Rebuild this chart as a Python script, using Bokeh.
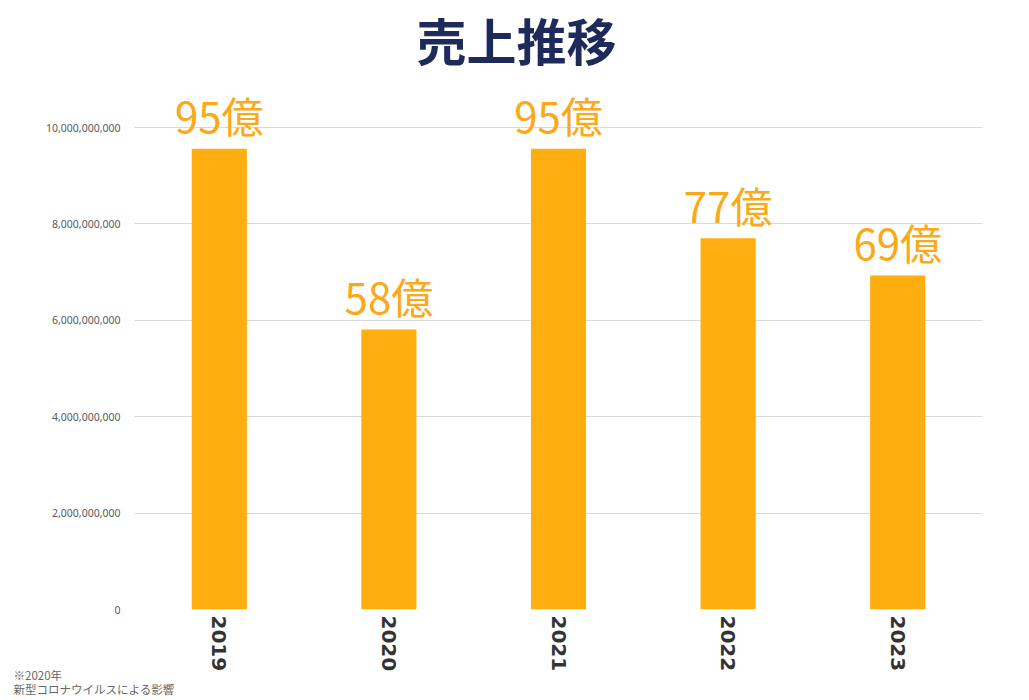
import math
from bokeh.plotting import figure
from bokeh.models import ColumnDataSource, FixedTicker, NumeralTickFormatter, Title, Range1d, FactorRange
from bokeh.core.properties import value
from bokeh.embed import file_html
from bokeh.resources import INLINE

years = ["2019", "2020", "2021", "2022", "2023"]
sales = [9.56e9, 5.81e9, 9.56e9, 7.70e9, 6.93e9]
labels = ["95億", "58億", "95億", "77億", "69億"]
y_ticks = [0, 2e9, 4e9, 6e9, 8e9, 10e9]
title_text = "売上推移"
note_text = "※2020年\n新型コロナウイルスによる影響"

BAR = "#FFAE10"
LABEL_C = "#FBA919"
JP = "Noto Sans CJK JP"

src = ColumnDataSource(dict(x=years, top=sales, label=labels))

p = figure(frame_width=848, frame_height=535, output_backend="svg", toolbar_location=None,
           x_range=FactorRange(*years, range_padding=0),
           y_range=Range1d(0, 11.10e9),
           min_border_left=134, min_border_right=31, min_border_top=60, min_border_bottom=90)
p.outline_line_color = None

p.title.text = title_text
p.title.align = "left"
p.title.offset = 282
p.title.standoff = 0
p.title.text_font = JP
p.title.text_font_size = "50px"
p.title.text_font_style = "bold"
p.title.text_color = "#1E2A5A"

p.vbar(x="x", top="top", width=0.325, source=src, color=BAR, line_color=None)
p.text(x="x", y="top", text="label", source=src, text_align="center", text_baseline="alphabetic",
       y_offset=-34, text_font=value(JP), text_font_size="42px", text_color=LABEL_C)

p.xgrid.grid_line_color = None
p.ygrid.grid_line_color = "#D9D9D9"
p.ygrid.ticker = FixedTicker(ticks=y_ticks)

p.yaxis.ticker = FixedTicker(ticks=y_ticks)
p.yaxis.formatter = NumeralTickFormatter(format="0,0")
p.yaxis.axis_line_color = None
p.yaxis.major_tick_line_color = None
p.yaxis.minor_tick_line_color = None
p.yaxis.major_label_text_font = "Noto Sans"
p.yaxis.major_label_text_font_size = "10.5px"
p.yaxis.major_label_text_color = "#595959"
p.yaxis.major_label_standoff = 8

p.xaxis.axis_line_color = None
p.xaxis.major_tick_line_color = None
p.xaxis.major_label_orientation = -math.pi / 2
p.xaxis.major_label_text_font = "DejaVu Sans"
p.xaxis.major_label_text_font_style = "bold"
p.xaxis.major_label_text_font_size = "20px"
p.xaxis.major_label_text_color = "#333333"
p.xaxis.major_label_standoff = 0

note = Title(text=note_text, align="left", offset=-121, standoff=-45,
             text_font=JP, text_font_size="11.5px", text_font_style="normal",
             text_line_height=0.88, text_color="#666666")
p.add_layout(note, "below")

open("out.html", "w").write(file_html(p, INLINE))
